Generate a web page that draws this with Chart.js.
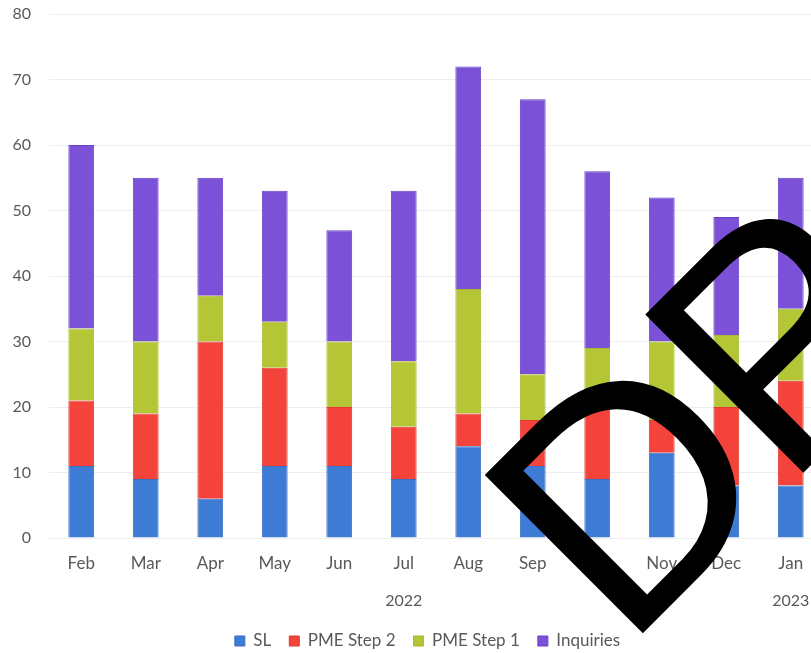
<!DOCTYPE html>
<html>
<head>
<meta charset="utf-8">
<title>Monthly stacked bars</title>
<script src="https://cdn.jsdelivr.net/npm/chart.js@4"></script>
<style>
  html, body { margin: 0; padding: 0; background: #fff; overflow: hidden; }
  #wrap { width: 852px; height: 653px; position: relative; }
</style>
</head>
<body>
<div id="wrap"><canvas id="myChart" width="852" height="653"></canvas></div>
<script>
'use strict';
const months = ['Feb', 'Mar', 'Apr', 'May', 'Jun', 'Jul', 'Aug', 'Sep', 'Oct', 'Nov', 'Dec', 'Jan'];
const yearLabels = ['', '', '', '', '', '2022', '', '', '', '', '', '2023'];
const sl = [11, 9, 6, 11, 11, 9, 14, 11, 9, 13, 8, 8];
const pmeStep2 = [10, 10, 24, 15, 9, 8, 5, 7, 12, 5, 12, 16];
const pmeStep1 = [11, 11, 7, 7, 10, 10, 19, 7, 8, 12, 11, 11];
const inquiries = [28, 25, 18, 20, 17, 26, 34, 42, 27, 22, 18, 20];
const yTicks = [0, 10, 20, 30, 40, 50, 60, 70, 80];

const textColor = '#595959';
const fontFamily = 'Lato, "Open Sans", sans-serif';

// the big black "DP" letters stamped over the scan
const stampPlugin = {
  id: 'stamp',
  afterDraw(chart) {
    let ctx = chart.ctx;
    ctx.save();
    ctx.translate(624, 652);
    ctx.rotate(-Math.PI / 4);
    ctx.font = '325px "Liberation Sans", Arial, sans-serif';
    ctx.fillStyle = '#000';
    ctx.textBaseline = 'alphabetic';
    ctx.fillText('D', 0, 0);
    ctx.fillText('P', 227, 0);
    ctx.restore();
  }
};

// nudge the legend so it sits centred like the scanned original
const legendShift = {
  id: 'legendShift',
  afterLayout(chart) {
    chart.legend.left += 16;
    chart.legend.right += 16;
  }
};

function chartRender() {
  let ctx = document.getElementById('myChart').getContext('2d');
  let chart = new Chart(ctx, {
    type: 'bar',
    data: {
      labels: months,
      datasets: [{
        label: 'SL',
        backgroundColor: '#3d7bd5',
        borderColor: '#3a6fc4',
        borderWidth: 1,
        data: sl
      },
      {
        label: 'PME Step 2',
        backgroundColor: '#f4433a',
        borderColor: '#e03a33',
        borderWidth: 1,
        data: pmeStep2
      },
      {
        label: 'PME Step 1',
        backgroundColor: '#b4c636',
        borderColor: '#a8b92f',
        borderWidth: 1,
        data: pmeStep1
      },
      {
        label: 'Inquiries',
        backgroundColor: '#7b51d8',
        borderColor: '#6a42c8',
        borderWidth: 1,
        data: inquiries
      }]
    },
    options: {
      responsive: false,
      animation: false,
      layout: { padding: { top: 14, right: 29, left: 0, bottom: -6.5 } },
      datasets: { bar: { categoryPercentage: 1, barPercentage: 0.4 } },
      scales: {
        x: {
          stacked: true,
          grid: { display: false, drawTicks: false },
          border: { display: false },
          ticks: { color: textColor, font: { family: fontFamily, size: 17 }, padding: 15 },
          afterFit(scale) { scale.height = 42; }
        },
        x2: {
          type: 'category',
          position: 'bottom',
          labels: yearLabels,
          grid: { display: false, drawTicks: false },
          border: { display: false },
          ticks: { color: textColor, font: { family: fontFamily, size: 16 }, padding: 11, autoSkip: false, maxRotation: 0 },
          afterFit(scale) { scale.height = 34.5; }
        },
        y: {
          stacked: true,
          min: 0,
          max: 80,
          afterBuildTicks(scale) { scale.ticks = yTicks.map(v => ({ value: v })); },
          grid: { color: '#eeeeee', drawTicks: false },
          border: { display: false },
          ticks: { color: textColor, font: { family: fontFamily, size: 16 }, padding: 18 },
          afterFit(scale) {
            scale.width = 49;
            scale.paddingTop = 0;
            scale.paddingBottom = 0;
          }
        }
      },
      plugins: {
        legend: {
          position: 'bottom',
          labels: {
            color: textColor,
            font: { family: fontFamily, size: 17 },
            boxWidth: 10,
            boxHeight: 10,
            padding: 18
          }
        },
        tooltip: { enabled: false }
      }
    },
    plugins: [stampPlugin, legendShift]
  });
  return chart;
}
chartRender();
</script>
</body>
</html>
